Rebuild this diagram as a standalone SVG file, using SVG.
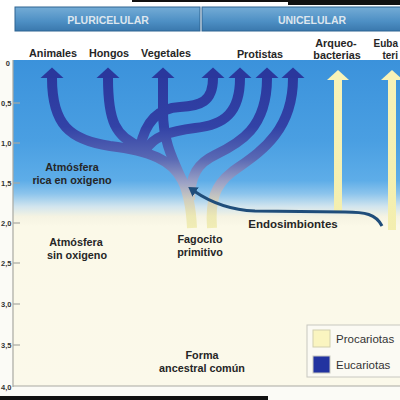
<svg xmlns="http://www.w3.org/2000/svg" width="400" height="400" viewBox="0 0 400 400">
<defs>
<linearGradient id="sky" x1="0" y1="60" x2="0" y2="386" gradientUnits="userSpaceOnUse">
<stop offset="0" stop-color="#3b92db"/>
<stop offset="0.25" stop-color="#4a9fe2"/>
<stop offset="0.37" stop-color="#5eade8"/>
<stop offset="0.41" stop-color="#8cc4ec"/>
<stop offset="0.45" stop-color="#d2e5ee"/>
<stop offset="0.48" stop-color="#f5f3e2"/>
<stop offset="0.51" stop-color="#fbf9e8"/>
<stop offset="1" stop-color="#fbf9ea"/>
</linearGradient>
<linearGradient id="hdr" x1="0" y1="0" x2="0" y2="1">
<stop offset="0" stop-color="#74acd6"/>
<stop offset="0.6" stop-color="#4d8fc4"/>
<stop offset="1" stop-color="#3a78ad"/>
</linearGradient>
<linearGradient id="euk" x1="0" y1="70" x2="0" y2="232" gradientUnits="userSpaceOnUse">
<stop offset="0" stop-color="#2a379c"/>
<stop offset="0.35" stop-color="#3242a6"/>
<stop offset="0.55" stop-color="#5a69b4"/>
<stop offset="0.7" stop-color="#9ea4c6"/>
<stop offset="0.8" stop-color="#cfcdbf"/>
<stop offset="0.9" stop-color="#ece8b4"/>
<stop offset="1" stop-color="#f3efb6"/>
</linearGradient>
<linearGradient id="pro" x1="0" y1="70" x2="0" y2="232" gradientUnits="userSpaceOnUse">
<stop offset="0" stop-color="#f8f3b8"/>
<stop offset="1" stop-color="#f3eeae"/>
</linearGradient>
<marker id="hb" markerUnits="userSpaceOnUse" markerWidth="14" markerHeight="26" viewBox="0 -13 14 26" refX="0" refY="0" orient="auto-start-reverse">
<path d="M0,-11.5 L10.5,0 L0,11.5 Z" fill="#2a379c"/>
</marker>
<marker id="hy" markerUnits="userSpaceOnUse" markerWidth="14" markerHeight="26" viewBox="0 -13 14 26" refX="0" refY="0" orient="auto-start-reverse">
<path d="M0,-11 L10,0 L0,11 Z" fill="#f8f3b8"/>
</marker>
<marker id="hn" markerUnits="userSpaceOnUse" markerWidth="12" markerHeight="14" viewBox="0 -7 12 14" refX="2" refY="0" orient="auto">
<path d="M0,-5.5 L9,0 L0,5.5 Z" fill="#1f4d7a"/>
</marker>
<style>
.t{font-family:"Liberation Sans",Arial,sans-serif;font-weight:bold;font-size:10.8px;fill:#262626;text-anchor:middle}
.ax{font-family:"Liberation Sans",Arial,sans-serif;font-weight:bold;font-size:7.5px;fill:#333;text-anchor:end}
.hd{font-family:"Liberation Sans",Arial,sans-serif;font-weight:bold;font-size:10.5px;fill:#dde6ee;text-anchor:middle}
.lg{font-family:"Liberation Sans",Arial,sans-serif;font-size:11.5px;fill:#333}
.eb{fill:none;stroke:url(#euk);stroke-width:10;stroke-linecap:butt;stroke-linejoin:round}
.pb{fill:none;stroke:url(#pro);stroke-width:8}
.tk{stroke:#a9a9a2;stroke-width:1.2}
</style>
</defs>
<rect x="0" y="0" width="400" height="400" fill="#fbfbf6"/>
<rect x="0" y="0" width="400" height="60" fill="#ffffff"/>
<rect x="132" y="0" width="268" height="2" fill="#111"/>
<rect x="288" y="0" width="112" height="5" fill="#111"/>
<rect x="0" y="396" width="268" height="4" fill="#111"/>
<rect x="13" y="60" width="387" height="326" fill="url(#sky)"/>
<line x1="13" y1="60" x2="13" y2="387" class="tk"/>
<line x1="13" y1="386" x2="400" y2="386" class="tk"/>
<g id="axis">
<line x1="13" y1="103" x2="20" y2="103" class="tk"/>
<line x1="13" y1="143" x2="20" y2="143" class="tk"/>
<line x1="13" y1="183" x2="20" y2="183" class="tk"/>
<line x1="13" y1="223" x2="20" y2="223" class="tk"/>
<line x1="13" y1="263" x2="20" y2="263" class="tk"/>
<line x1="13" y1="304" x2="20" y2="304" class="tk"/>
<line x1="13" y1="345" x2="20" y2="345" class="tk"/>
<text class="ax" x="10" y="66">0</text>
<text class="ax" x="11.5" y="106">0,5</text>
<text class="ax" x="11.5" y="146">1,0</text>
<text class="ax" x="11.5" y="186">1,5</text>
<text class="ax" x="11.5" y="226">2,0</text>
<text class="ax" x="11.5" y="266">2,5</text>
<text class="ax" x="11.5" y="307">3,0</text>
<text class="ax" x="11.5" y="348">3,5</text>
<text class="ax" x="11.5" y="390">4,0</text>
</g>
<g id="hdr-pluri">
<rect x="15" y="7" width="185" height="24" fill="url(#hdr)" stroke="#2f6592" stroke-width="1"/>
<text class="hd" x="108" y="23.5">PLURICELULAR</text>
</g>
<g id="hdr-uni">
<rect x="202" y="7" width="200" height="24" fill="url(#hdr)" stroke="#2f6592" stroke-width="1"/>
<text class="hd" x="312" y="23.5">UNICELULAR</text>
</g>
<g id="connectors">
<path class="eb" d="M52,78 C52,125 70,140 110,146 C150,151 172,160 182,180 C188,192 191,205 192,228" marker-start="url(#hb)"/>
<path class="eb" d="M108,78 C108,120 115,138 142,147" marker-start="url(#hb)"/>
<path class="eb" d="M163,78 L163,112 C163,140 172,158 182,180" marker-start="url(#hb)"/>
<path class="eb" d="M213,78 C213,102 200,106 180,107 C158,108 145,122 140,148" marker-start="url(#hb)"/>
<path class="eb" d="M240,78 C240,112 225,125 195,128 C170,131 152,137 146,150" marker-start="url(#hb)"/>
<path class="eb" d="M267,78 C267,128 240,143 215,155 C198,163 190,175 190,200" marker-start="url(#hb)"/>
<path class="eb" d="M293,78 C293,135 255,155 232,172 C215,185 210,200 212,228" marker-start="url(#hb)"/>
<path class="pb" d="M338,80 L338,212" marker-start="url(#hy)"/>
<path class="pb" d="M392,80 L392,230" marker-start="url(#hy)"/>
<path d="M382,226 C376,214 365,212 345,212 L255,211 C228,210 210,202 194,191" fill="none" stroke="#1f4d7a" stroke-width="3" marker-end="url(#hn)"/>
</g>
<g id="animales"><text class="t" x="53" y="57">Animales</text></g>
<g id="hongos"><text class="t" x="109" y="57">Hongos</text></g>
<g id="vegetales"><text class="t" x="166" y="57">Vegetales</text></g>
<g id="protistas"><text class="t" x="260" y="58">Protistas</text></g>
<g id="arqueobacterias"><text class="t" x="336" y="47">Arqueo-</text><text class="t" x="337" y="59">bacterias</text></g>
<g id="eubacterias"><text class="t" x="398" y="47" style="text-anchor:end;font-size:10px">Euba</text><text class="t" x="398" y="59" style="text-anchor:end;font-size:10px">teri</text></g>
<g id="atm-rica"><text class="t" x="72" y="171">Atmósfera</text><text class="t" x="72" y="184">rica en oxigeno</text></g>
<g id="atm-sin"><text class="t" x="76" y="246">Atmósfera</text><text class="t" x="77" y="259">sin oxigeno</text></g>
<g id="fagocito"><text class="t" x="200" y="243">Fagocito</text><text class="t" x="200" y="256">primitivo</text></g>
<g id="endosimbiontes"><text class="t" x="293" y="228" style="font-size:11.5px">Endosimbiontes</text></g>
<g id="forma"><text class="t" x="202" y="359">Forma</text><text class="t" x="202" y="372">ancestral común</text></g>
<g id="legend">
<rect x="307" y="325" width="100" height="52" fill="#fbfaf3" stroke="#c8c8c0" stroke-width="1"/>
<rect x="313" y="330" width="17" height="17" fill="#faf5c0" stroke="#d2cfae" stroke-width="1"/>
<rect x="313" y="356" width="17" height="17" fill="#2233a0" stroke="#c8c8c0" stroke-width="1"/>
<text class="lg" x="336" y="343">Procariotas</text>
<text class="lg" x="336" y="369">Eucariotas</text>
</g>
</svg>
